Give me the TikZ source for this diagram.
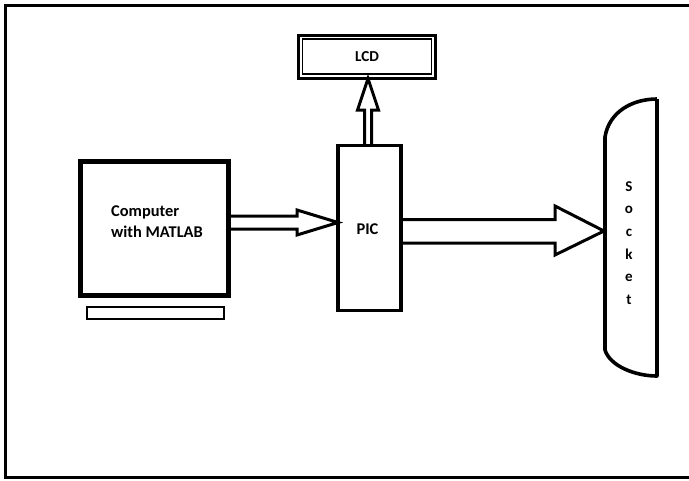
\documentclass[tikz,border=0pt]{standalone}
\usepackage{fontspec}
\setmainfont{Carlito}
\usetikzlibrary{calc}
\begin{document}
\begin{tikzpicture}[x=1pt,y=-1pt,
  box/.style={draw,rectangle,outer sep=0pt,inner sep=0pt},
  lbl/.style={font=\bfseries\fontsize{16.4}{21}\selectfont,inner sep=0pt},
  barrow/.style={draw,line width=3pt,line join=miter}]
\useasboundingbox (0,0) rectangle (689,480);
% frame
\draw[line width=3pt] (689,5.5) -- (5.5,5.5) -- (5.5,477.5) -- (689,477.5);
% computer
\node[box,line width=4.2pt,minimum width=148pt,minimum height=134pt] (comp) at (154.5,228.5) {};
\node[lbl,align=left] (complbl) at (157,222) {Computer\\with MATLAB};
\node[box,line width=2.5pt,minimum width=137pt,minimum height=12pt] (base) at (155.5,313) {};
% PIC
\node[box,line width=3.8pt,minimum width=63pt,minimum height=165pt] (pic) at (369.5,228) {};
\node[lbl] (piclbl) at (367.5,229) {PIC};
% LCD
\node[box,line width=3.2pt,minimum width=136.5pt,minimum height=43pt,font=\bfseries\fontsize{15.2}{17}\selectfont] (lcd) at (367,57) {LCD};
\draw[line width=1.2pt] ($(lcd.south west)+(4,-4.5)$) rectangle ($(lcd.north east)+(-3.5,3.5)$);
% socket
\coordinate (socktip) at (604,231);
\coordinate (sockTL) at (605,137);
\coordinate (sockTR) at (657,99);
\coordinate (sockBL) at (605,350);
\coordinate (sockBR) at (657,376);
\draw[line width=3.6pt,line join=round]
  (sockTR) -- (sockBR) .. controls (635,376) and (610,366) .. (sockBL)
  -- (sockTL) .. controls (609,112) and (632,99) .. (sockTR);
\node[font=\bfseries\fontsize{15}{22.6}\selectfont,align=center,inner sep=0pt] (socklbl) at (629,243) {S\\o\\c\\k\\e\\t};
% arrows
\draw[barrow] (comp.east |- 0,216) -- (297,216) -- (297,210) -- (pic.west |- 0,222.5)
  -- (297,235) -- (297,229) -- (comp.east |- 0,229);
\draw[barrow] (pic.east |- 0,219.5) -- (555,219.5) -- (555,206) -- (socktip)
  -- (555,255) -- (555,243) -- (pic.east |- 0,243);
\draw[barrow] (pic.north -| 364.5,0) -- (364.5,110) -- (357.5,110) -- (lcd.south -| 368,0)
  -- (378.5,110) -- (371.5,110) -- (pic.north -| 371.5,0);
\end{tikzpicture}
\end{document}
